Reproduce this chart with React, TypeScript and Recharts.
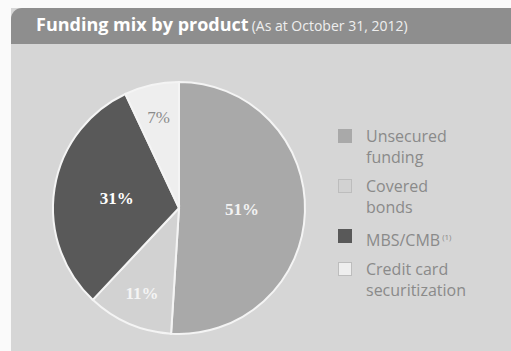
import React from "react";
import { PieChart, Pie, Cell, Legend } from "recharts";

const products = ["Unsecured funding", "Covered bonds", "MBS/CMB", "Credit card securitization"];
const shares = [51, 11, 31, 7];
const legendLines = [["Unsecured", "funding"], ["Covered", "bonds"], ["MBS/CMB"], ["Credit card", "securitization"]];
const colors = ["#a9a9a9", "#d2d2d2", "#595959", "#eeeeee"];
const labelColors = ["#f2f2f2", "#f4f4f4", "#ffffff", "#8a8a8a"];

const data = products.map((name, i) => ({ name, value: shares[i] }));

const RAD = Math.PI / 180;

function renderLabel(props: any) {
  const { cx, cy, midAngle, outerRadius, value, index } = props;
  const r = value < 15 ? outerRadius * 0.74 : outerRadius * 0.5;
  const x = cx + r * Math.cos(-midAngle * RAD);
  const y = cy + r * Math.sin(-midAngle * RAD);
  return (
    <text
      x={x}
      y={y}
      fill={labelColors[index]}
      textAnchor="middle"
      dominantBaseline="central"
      fontFamily="'Liberation Serif', serif"
      fontWeight={index === 3 ? 400 : 700}
      fontSize={17}
    >
      {value}%
    </text>
  );
}

function LegendBox() {
  return (
    <div style={{ fontFamily: "'Open Sans', sans-serif", fontSize: 16, color: "#8a8a8a", lineHeight: "21px" }}>
      {legendLines.map((lines, i) => (
        <div key={i} style={{ display: "flex", marginBottom: 8 }}>
          <div
            style={{
              width: 14,
              height: 14,
              marginTop: 3,
              marginRight: 14,
              background: colors[i],
              border: i === 3 || i === 1 ? "1px solid #bdbdbd" : "1px solid " + colors[i],
              boxSizing: "border-box",
              flexShrink: 0,
            }}
          />
          <div>
            {lines.map((l, j) => (
              <div key={j}>
                {l}
                {i === 2 && <sup style={{ fontSize: 8, marginLeft: 2 }}>(1)</sup>}
              </div>
            ))}
          </div>
        </div>
      ))}
    </div>
  );
}

export default function App() {
  return (
    <div style={{ position: "absolute", left: 0, top: 0, width: 511, height: 351, background: "#fafafa", overflow: "hidden" }}>
      <div style={{ position: "absolute", left: 11, top: 8, width: 500, height: 343, background: "#d6d6d6" }} />
      <div
        style={{
          position: "absolute",
          left: 11,
          top: 8,
          width: 500,
          height: 36,
          background: "#8e8e8e",
          borderTopLeftRadius: 11,
          color: "#ffffff",
          fontFamily: "'Open Sans', sans-serif",
          whiteSpace: "nowrap",
        }}
      >
        <span style={{ position: "absolute", left: 25, top: 4, fontSize: 18, fontWeight: 700 }}>
          Funding mix by product
          <span style={{ fontSize: 14, fontWeight: 400, marginLeft: 3, color: "#eeeeee" }}>(As at October 31, 2012)</span>
        </span>
      </div>
      <div style={{ position: "absolute", left: 0, top: 0 }}>
        <PieChart width={511} height={351}>
          <Pie
            data={data}
            dataKey="value"
            nameKey="name"
            cx={174}
            cy={203}
            outerRadius={126}
            startAngle={90}
            endAngle={-270}
            stroke="#f4f4f4"
            strokeWidth={2}
            label={renderLabel}
            labelLine={false}
            isAnimationActive={false}
          >
            {data.map((d, i) => (
              <Cell key={d.name} fill={colors[i]} />
            ))}
          </Pie>
          <Legend content={() => <LegendBox />} wrapperStyle={{ left: 338, top: 126, width: 170 }} />
        </PieChart>
      </div>
    </div>
  );
}
